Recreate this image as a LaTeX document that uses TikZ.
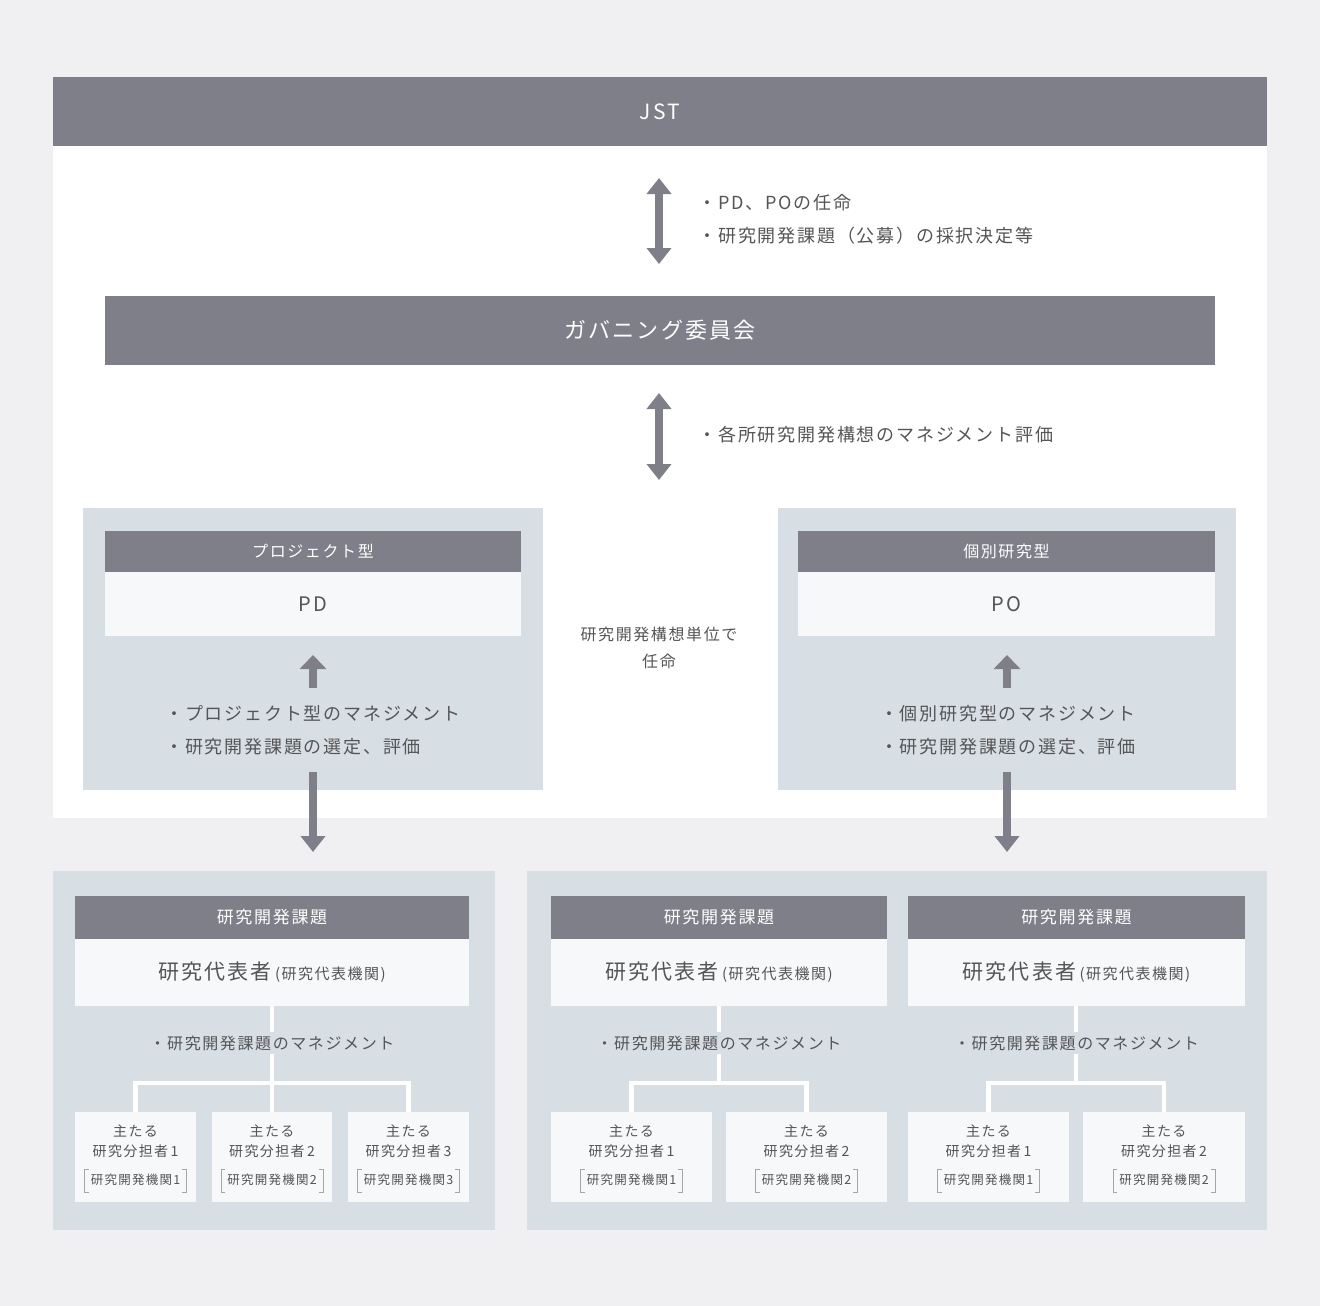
\documentclass[tikz,border=0pt]{standalone}
\usepackage{fontspec}
\setmainfont[LetterSpace=10]{Noto Sans CJK JP}
\usetikzlibrary{arrows.meta,calc}
\definecolor{bgc}{HTML}{F0F0F2}
\definecolor{bar}{HTML}{7F7F89}
\definecolor{pan}{HTML}{D7DFE5}
\definecolor{wb}{HTML}{F7F8FA}
\definecolor{tx}{HTML}{555555}
\tikzset{
 bx/.style={inner sep=0pt,outer sep=0pt,anchor=north west},
 tline/.style={text=tx,font=\fontsize{18}{33}\selectfont},
 arr/.style={draw=bar,line width=8pt,-{Triangle[width=24pt,length=16pt]}},
 darr/.style={draw=bar,line width=8pt,{Triangle[width=24pt,length=16pt]}-{Triangle[width=24pt,length=16pt]}},
 tree/.style={draw=white,line width=4.5pt},
}
\newcommand{\rect}[6]{\node[bx,fill=#5,minimum width=#3pt,minimum height=#4pt] (#6) at (#1,#2) {};}
\newcommand{\unit}[3]{% name, x, width
 \rect{#2}{896}{#3}{43}{bar}{#1h}
 \node[text=white,font=\fontsize{17}{18}\selectfont] at (#1h.center) {研究開発課題};
 \rect{#2}{939}{#3}{67}{wb}{#1w}
 \node[text=tx,font=\fontsize{21}{24}\selectfont] at (#1w.center) {研究代表者\,{\fontsize{15}{18}\selectfont (研究代表機関)}};
 \node[text=tx,font=\fontsize{16}{20}\selectfont] (#1t) at ($(#1w.south)+(0,37)$) {・研究開発課題のマネジメント};
}
\newcommand{\sub}[4]{% name, x, number, width
 \rect{#2}{1112}{#4}{90}{wb}{#1}
 \node[text=tx,font=\fontsize{14}{20}\selectfont,align=center] at ($(#1.north)+(0,29)$) {主たる\\研究分担者\,#3};
 \node[text=tx,font=\fontsize{12.5}{14}\selectfont,inner xsep=5pt] (#1b) at ($(#1.north)+(0,68)$) {研究開発機関#3};
 \draw[gray!70,line width=0.8pt] ($(#1b.north west)+(3,-1)$) -- ++(-4,0) -- ($(#1b.south west)+(-1,3)$) -- ++(4,0);
 \draw[gray!70,line width=0.8pt] ($(#1b.north east)+(-3,-1)$) -- ++(4,0) -- ($(#1b.south east)+(1,3)$) -- ++(-4,0);
}
\begin{document}
\begin{tikzpicture}[x=1pt,y=-1pt]
\useasboundingbox (0,0) rectangle (1320,1306);
\fill[bgc] (0,0) rectangle (1320,1306);
\rect{53}{77}{1214}{741}{white}{main}
\rect{53}{77}{1214}{69}{bar}{jst}
\node[text=white,font=\fontsize{21}{24}\selectfont] at (jst.center) {JST};
\rect{105}{296}{1110}{69}{bar}{gov}
\node[text=white,font=\fontsize{22}{26}\selectfont] at (gov.center) {ガバニング委員会};
\coordinate (a1) at (659,178); \coordinate (a2) at (659,264);
\draw[darr] (a1) -- (a2);
\node[tline,anchor=west] (t1) at (695,203) {・PD、POの任命};
\node[tline,anchor=west] (t2) at (695,236) {・研究開発課題（公募）の採択決定等};
\coordinate (b1) at (659,393); \coordinate (b2) at (659,480);
\draw[darr] (b1) -- (b2);
\node[tline,anchor=west] (t3) at (695,435) {・各所研究開発構想のマネジメント評価};
\rect{83}{508}{460}{282}{pan}{lp}
\rect{778}{508}{458}{282}{pan}{rp}
\rect{105}{531}{416}{41}{bar}{lh}
\node[text=white,font=\fontsize{16}{18}\selectfont] at (lh.center) {プロジェクト型};
\rect{105}{572}{416}{64}{wb}{lw}
\node[text=tx,font=\fontsize{20}{24}\selectfont] at (lw.center) {PD};
\rect{798}{531}{417}{41}{bar}{rh}
\node[text=white,font=\fontsize{16}{18}\selectfont] at (rh.center) {個別研究型};
\rect{798}{572}{417}{64}{wb}{rw}
\node[text=tx,font=\fontsize{20}{24}\selectfont] at (rw.center) {PO};
\coordinate (lu1) at (313,688); \coordinate (lu2) at (313,655);
\draw[draw=bar,line width=8pt,-{Triangle[width=26pt,length=14pt]}] (lu1) -- (lu2);
\coordinate (ru1) at (1007,688); \coordinate (ru2) at (1007,655);
\draw[draw=bar,line width=8pt,-{Triangle[width=26pt,length=14pt]}] (ru1) -- (ru2);
\node[tline,align=left] (lt) at (313,730) {・プロジェクト型のマネジメント\\・研究開発課題の選定、評価};
\node[tline,align=left] (rt) at (1008,730) {・個別研究型のマネジメント\\・研究開発課題の選定、評価};
\node[text=tx,font=\fontsize{16}{27}\selectfont,align=center] (mid) at (659,648) {研究開発構想単位で\\任命};
\rect{53}{871}{442}{359}{pan}{bl}
\rect{527}{871}{740}{359}{pan}{br}
\coordinate (ld1) at (313,772); \coordinate (ld2) at (313,852);
\draw[arr] (ld1) -- (ld2);
\coordinate (rd1) at (1007,772); \coordinate (rd2) at (1007,852);
\draw[arr] (rd1) -- (rd2);
\unit{u1}{75}{394}
\unit{u2}{551}{336}
\unit{u3}{908}{337}
\sub{s11}{75}{1}{121}
\sub{s12}{212}{2}{120}
\sub{s13}{348}{3}{121}
\sub{s21}{551}{1}{161}
\sub{s22}{726}{2}{161}
\sub{s31}{908}{1}{161}
\sub{s32}{1083}{2}{162}
\draw[tree] (u1w.south -| 272,0) -- (u1t.north -| 272,0);
\draw[tree] (u1t.south -| 272,0) -- (272,1083);
\draw[tree] (s11.north) |- (272,1083) -| (s13.north);
\draw[tree] (s12.north) -- (s12.north |- 0,1083);
\draw[tree] (u2w.south -| 719,0) -- (u2t.north -| 719,0);
\draw[tree] (u2t.south -| 719,0) -- (719,1083);
\draw[tree] (s21.north) |- (719,1083) -| (s22.north);
\draw[tree] (u3w.south -| 1076,0) -- (u3t.north -| 1076,0);
\draw[tree] (u3t.south -| 1076,0) -- (1076,1083);
\draw[tree] (s31.north) |- (1076,1083) -| (s32.north);
\end{tikzpicture}
\end{document}
